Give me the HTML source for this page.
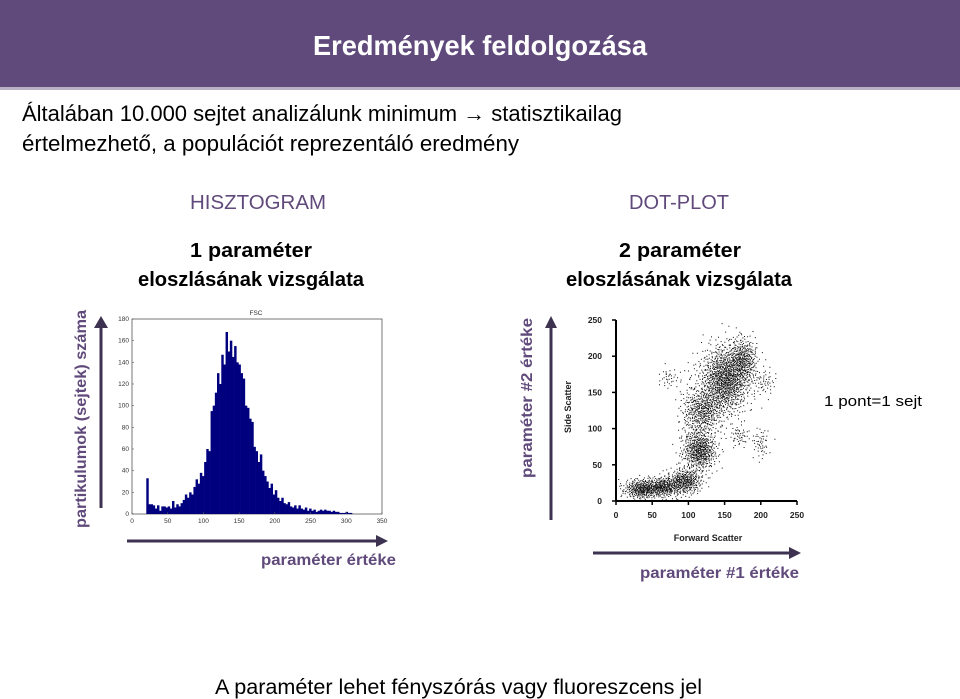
<!DOCTYPE html>
<html><head><meta charset="utf-8"><style>
html,body{margin:0;padding:0;background:#fff;}
svg{display:block;font-family:"Liberation Sans",sans-serif;}
</style></head><body>
<svg id="s" width="960" height="699" viewBox="0 0 960 699" xmlns="http://www.w3.org/2000/svg">
<rect x="0" y="0" width="960" height="88" fill="#604a7b"/>
<rect x="0" y="87" width="960" height="3" fill="#b8b0c4"/>
<text x="313" y="55" font-size="28" font-weight="bold" fill="#fff" textLength="334" lengthAdjust="spacingAndGlyphs">Eredmények feldolgozása</text>
<text x="22" y="121" font-size="22" fill="#000" textLength="600" lengthAdjust="spacingAndGlyphs">Általában 10.000 sejtet analizálunk minimum → statisztikailag</text>
<text x="22" y="151" font-size="22" fill="#000" textLength="497" lengthAdjust="spacingAndGlyphs">értelmezhető, a populációt reprezentáló eredmény</text>

<text x="190" y="209" font-size="20" fill="#604a7b" textLength="136" lengthAdjust="spacingAndGlyphs">HISZTOGRAM</text>
<text x="190" y="257" font-size="20" font-weight="bold" fill="#000" textLength="122" lengthAdjust="spacingAndGlyphs">1 paraméter</text>
<text x="138" y="286" font-size="20" font-weight="bold" fill="#000" textLength="226" lengthAdjust="spacingAndGlyphs">eloszlásának vizsgálata</text>
<text x="629" y="209" font-size="20" fill="#604a7b" textLength="100" lengthAdjust="spacingAndGlyphs">DOT-PLOT</text>
<text x="619" y="257" font-size="20" font-weight="bold" fill="#000" textLength="122" lengthAdjust="spacingAndGlyphs">2 paraméter</text>
<text x="566" y="286" font-size="20" font-weight="bold" fill="#000" textLength="226" lengthAdjust="spacingAndGlyphs">eloszlásának vizsgálata</text>

<g fill="#3d3250" stroke="#3d3250">
<line x1="101" y1="508" x2="101" y2="326" stroke-width="3"/><polygon points="94,328 108,328 101,316" stroke="none"/></g>
<text transform="translate(86,528) rotate(-90)" font-size="16" font-weight="bold" fill="#604a7b" textLength="218" lengthAdjust="spacingAndGlyphs">partikulumok (sejtek) száma</text>
<g fill="#3d3250" stroke="#3d3250">
<line x1="127" y1="541" x2="378" y2="541" stroke-width="3"/><polygon points="376,535 376,547 388,541" stroke="none"/></g>
<text x="261" y="565" font-size="16" font-weight="bold" fill="#604a7b" textLength="135" lengthAdjust="spacingAndGlyphs">paraméter értéke</text>

<g fill="#3d3250" stroke="#3d3250">
<line x1="551" y1="520" x2="551" y2="326" stroke-width="3"/><polygon points="545,328 557,328 551,316" stroke="none"/></g>
<text transform="translate(532,478) rotate(-90)" font-size="16" font-weight="bold" fill="#604a7b" textLength="160" lengthAdjust="spacingAndGlyphs">paraméter #2 értéke</text>
<g fill="#3d3250" stroke="#3d3250">
<line x1="593" y1="553" x2="791" y2="553" stroke-width="3"/><polygon points="789,547 789,559 801,553" stroke="none"/></g>
<text x="640" y="578" font-size="16" font-weight="bold" fill="#604a7b" textLength="159" lengthAdjust="spacingAndGlyphs">paraméter #1 értéke</text>
<text x="824" y="406" font-size="15" fill="#000" textLength="98" lengthAdjust="spacingAndGlyphs">1 pont=1 sejt</text>
<text x="215" y="694" font-size="21" fill="#000" textLength="487" lengthAdjust="spacingAndGlyphs">A paraméter lehet fényszórás vagy fluoreszcens jel</text>

<g id="hist"></g>
<g id="dot"></g>
</svg>
<script>
const histBinStart = [20,23,26,29,32,35,38,41,44,47,50,53,56,59,62,65,68,71,74,77,80,83,86,89,92,95,98,101,104,107,110,113,116,119,122,125,128,131,134,137,140,143,146,149,152,155,158,161,164,167,170,173,176,179,182,185,188,191,194,197,200,203,206,209,212,215,218,221,224,227,230,233,236,239,242,245,248,251,254,257,260,263,266,269,272,275,278,281,284,287,290,293,296,299,302,305];
const histCounts = [33,9,9,8,5,8,3,7,7,6,7,5,12,6,9,7,10,13,18,15,20,18,25,32,28,38,35,48,60,58,95,100,112,130,120,147,138,168,150,160,145,155,140,138,130,125,100,98,88,85,62,58,48,55,40,35,30,24,28,18,22,15,12,15,10,9,11,7,6,8,5,8,5,4,6,3,5,3,4,2,3,4,3,4,3,3,2,3,2,2,1,1,1,2,1,1];
const histBinWidth = 3;
const histXTicks = [0,50,100,150,200,250,300,350];
const histYTicks = [0,20,40,60,80,100,120,140,160,180];

const clusterFsc = [35,65,95,115,120,150,175,170,200,205,72,100];
const clusterSsc = [17,20,28,70,125,168,195,90,80,165,170,120];
const clusterSdFsc = [13,13,12,12,13,17,10,7,6,8,7,8];
const clusterSdSsc = [7,7,9,14,17,24,16,8,11,9,8,32];
const clusterCount = [330,330,330,520,420,1100,350,50,50,50,35,70];
const dotTicks = [0,50,100,150,200,250];

const NS="http://www.w3.org/2000/svg";
function mk(tag, attrs, parent){const e=document.createElementNS(NS,tag);for(const k in attrs)e.setAttribute(k,attrs[k]);parent.appendChild(e);return e;}

const hg=document.getElementById('hist');
const hx0=132,hx1=382,hy0=514,hy1=319;
const hX=v=>hx0+(v/350)*(hx1-hx0), hY=v=>hy0-(v/180)*(hy0-hy1);
let fr=mk('rect',{x:hx0,y:hy1,width:hx1-hx0,height:hy0-hy1,fill:'#fff',stroke:'#555','stroke-width':0.8},hg);


histCounts.forEach((c,i)=>{
  const b=mk('rect',{x:hX(histBinStart[i]),y:hY(c),width:hX(histBinWidth)-hx0+0.3,height:hy0-hY(c),fill:'#00007f'},hg);
  
  
});
histXTicks.forEach(t=>{
  mk('line',{x1:hX(t),x2:hX(t),y1:hy0,y2:hy0-2,stroke:'#555','stroke-width':0.6},hg);
  const l=mk('text',{x:hX(t),y:hy0+9,'font-size':6.5,'text-anchor':'middle',fill:'#333'},hg);
  l.textContent=t;
  
  
});
histYTicks.forEach(t=>{
  mk('line',{x1:hx0,x2:hx0+2,y1:hY(t),y2:hY(t),stroke:'#555','stroke-width':0.6},hg);
  const l=mk('text',{x:hx0-3,y:hY(t)+2,'font-size':6.5,'text-anchor':'end',fill:'#333'},hg);
  l.textContent=t;
  
  
});
const ht=mk('text',{x:256,y:315,'font-size':6.5,'text-anchor':'middle',fill:'#333'},hg);
ht.textContent='FSC';



const dg=document.getElementById('dot');
const dx0=616,dx1=797,dy0=501,dy1=320;
const dX=v=>dx0+(v/250)*(dx1-dx0), dY=v=>dy0-(v/250)*(dy0-dy1);
function halton(i,b){let f=1,r=0;while(i>0){f/=b;r+=f*(i%b);i=Math.floor(i/b);}return r;}
let d='',idx=1;
clusterCount.forEach((n,c)=>{
  for(let k=0;k<n;k++,idx++){
    const u1=Math.max(halton(idx,2),1e-4),u2=halton(idx,3);
    const r=Math.sqrt(-2*Math.log(u1));
    const fx=clusterFsc[c]+clusterSdFsc[c]*r*Math.cos(2*Math.PI*u2);
    const sy=clusterSsc[c]+clusterSdSsc[c]*r*Math.sin(2*Math.PI*u2);
    if(fx<0||sy<0||fx>250||sy>250)continue;
    d+='M'+dX(fx).toFixed(1)+' '+dY(sy).toFixed(1)+'h1v1h-1z';
  }
});
const pts=mk('path',{d:d,fill:'#111'},dg);


mk('line',{x1:dx0,x2:dx0,y1:dy0,y2:dy1,stroke:'#000','stroke-width':2},dg);
mk('line',{x1:dx0,x2:dx1,y1:dy0,y2:dy0,stroke:'#000','stroke-width':2},dg);
dotTicks.forEach(t=>{
  mk('line',{x1:dX(t),x2:dX(t),y1:dy0,y2:dy0+4,stroke:'#000','stroke-width':1.5},dg);
  mk('line',{x1:dx0-4,x2:dx0,y1:dY(t),y2:dY(t),stroke:'#000','stroke-width':1.5},dg);
  const lx=mk('text',{x:dX(t),y:dy0+17,'font-size':8.5,'font-weight':'bold','text-anchor':'middle',fill:'#222'},dg);
  lx.textContent=t;
  
  
  const ly=mk('text',{x:dx0-14,y:dY(t)+3,'font-size':8.5,'font-weight':'bold','text-anchor':'end',fill:'#222'},dg);
  ly.textContent=t;
  
  
});
const fs=mk('text',{x:708,y:541,'font-size':9,'font-weight':'bold','text-anchor':'middle',fill:'#222'},dg);
fs.textContent='Forward Scatter';


const ss=mk('text',{transform:'translate(571,407) rotate(-90)','font-size':9,'font-weight':'bold','text-anchor':'middle',fill:'#222'},dg);
ss.textContent='Side Scatter';


</script>
</body></html>
